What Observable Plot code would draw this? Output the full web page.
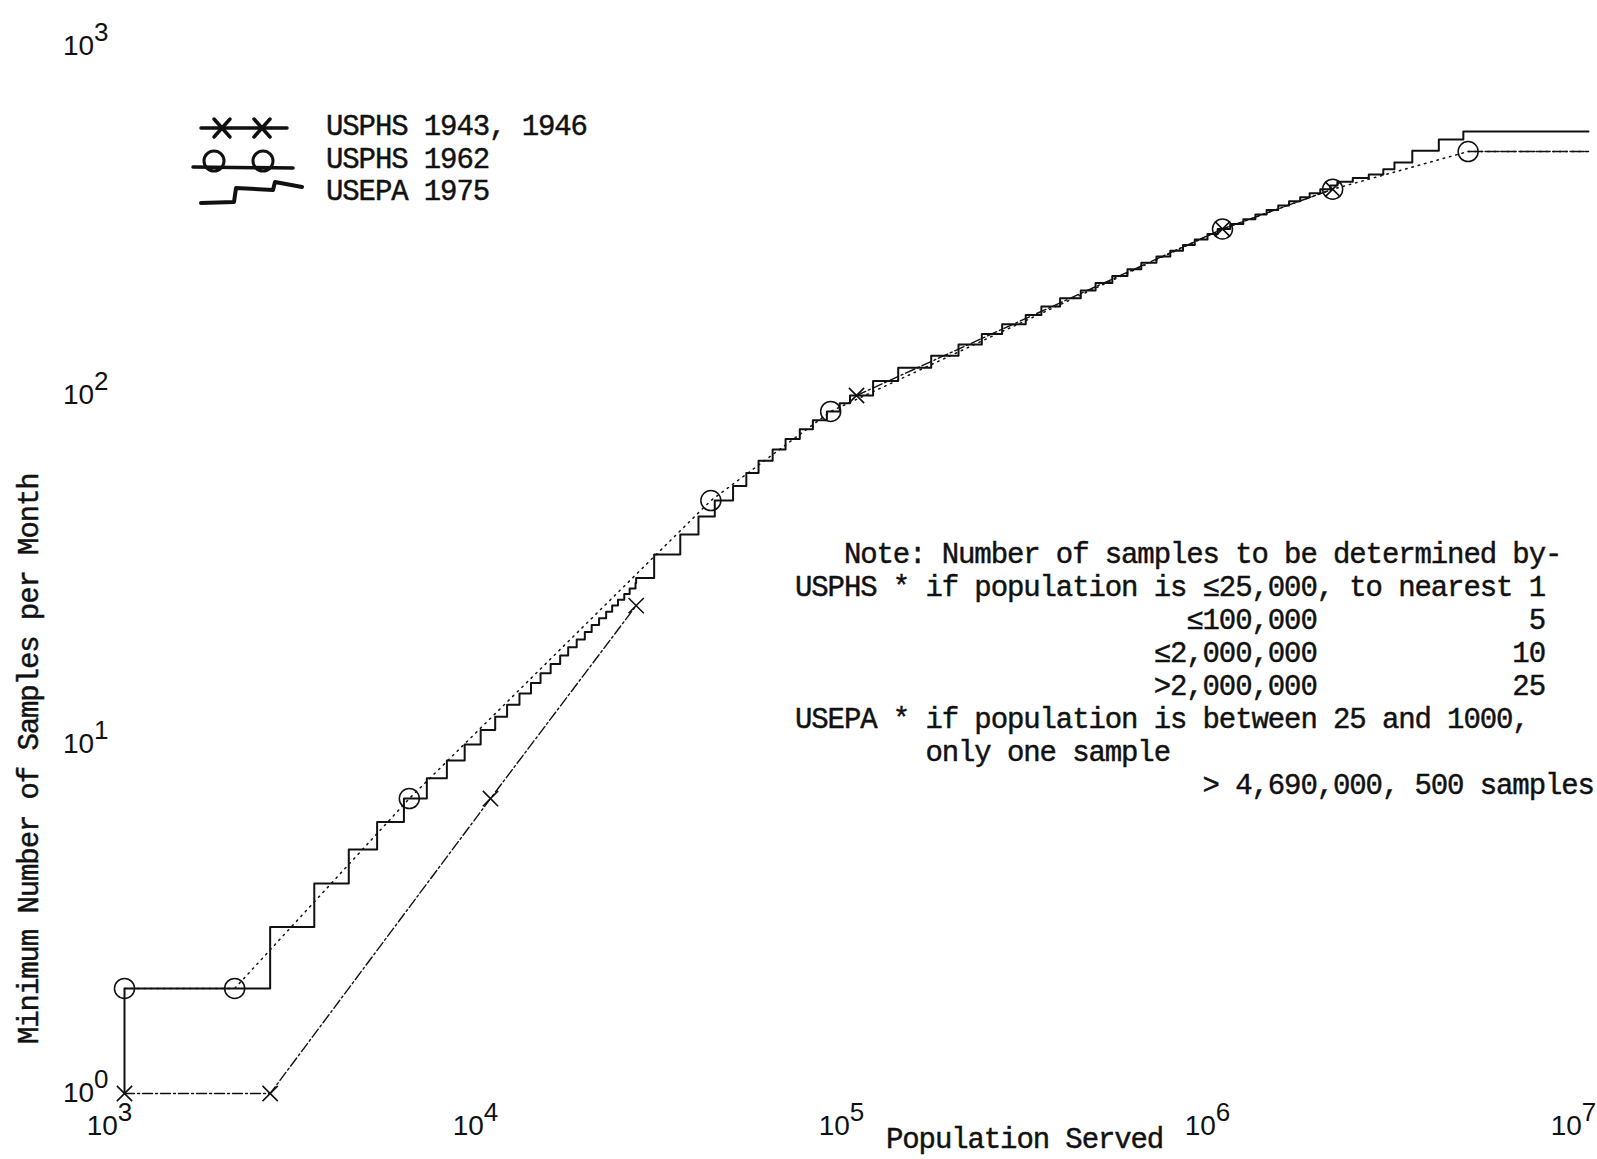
<!DOCTYPE html>
<html><head><meta charset="utf-8">
<script src="https://cdn.jsdelivr.net/npm/d3@7"></script>
<script src="https://cdn.jsdelivr.net/npm/@observablehq/plot@0.6"></script>
<style>
html,body{margin:0;padding:0;background:#fff;}
#wrap{position:relative;width:1597px;height:1159px;overflow:hidden;background:#fff;}
#wrap svg{position:absolute;left:0;top:0;}
.tw{position:absolute;margin:0;font-family:"Liberation Mono","Courier New",monospace;font-size:29px;letter-spacing:-1.1px;line-height:32px;height:32px;color:#111;white-space:pre;pointer-events:none;-webkit-text-stroke:0.45px #111;}
</style></head><body><div id="wrap"></div>
<script>
// ---------- DATA ----------
// USEPA 1975: population at which each step begins, and samples per month from there
const epaPopulation = [1000, 1000, 2500, 3300, 4100, 4900, 5800, 6700, 7600, 8500, 9400, 10300, 11100, 12000, 12900, 13700, 14600, 15500, 16300, 17200, 18100, 18900, 19800, 20700, 21500, 22300, 23200, 24000, 24900, 25000, 28000, 33000, 37000, 41000, 46000, 50000, 54000, 59000, 64000, 70000, 76000, 83000, 90000, 96000, 111000, 130000, 160000, 190000, 220000, 250000, 290000, 320000, 360000, 410000, 450000, 500000, 550000, 600000, 660000, 720000, 780000, 840000, 910000, 970000, 1050000, 1140000, 1230000, 1320000, 1420000, 1520000, 1630000, 1730000, 1850000, 1970000, 2060000, 2270000, 2510000, 2750000, 2950000, 3300000, 3900000, 4550000, 10000000];
const epaSamples = [1, 2, 3, 4, 5, 6, 7, 8, 9, 10, 11, 12, 13, 14, 15, 16, 17, 18, 19, 20, 21, 22, 23, 24, 25, 26, 27, 28, 29, 30, 35, 40, 45, 50, 55, 60, 65, 70, 75, 80, 85, 90, 95, 100, 110, 120, 130, 140, 150, 160, 170, 180, 190, 200, 210, 220, 230, 240, 250, 260, 270, 280, 290, 300, 310, 320, 330, 340, 350, 360, 370, 380, 390, 400, 410, 420, 430, 445, 465, 503, 541, 571, 571];

// USPHS 1943, 1946 (crosses); the drawn line stops at 25,000 and resumes at 100,000
const pop1943 = [1000, 2500, 10000, 25000, 100000, 1000000, 2000000];
const samples1943 = [1, 1, 7, 25, 100, 300, 390];
const break1943 = 25000;

// USPHS 1962 (circles); last point is the end of the line at the right edge
const pop1962 = [1000, 2000, 6000, 40000, 85000, 1000000, 2000000, 4690000, 10000000];
const samples1962 = [2, 2, 7, 50, 90, 300, 390, 500, 500];

const xTicks = [1e3, 1e4, 1e5, 1e6, 1e7];
const yTicks = [1, 10, 100, 1000];

const legendLabels = ["USPHS 1943, 1946", "USPHS 1962", "USEPA 1975"];
const xTitle = "Population Served";
const yTitle = "Minimum Number of Samples per Month";
const noteLines = [
  "   Note: Number of samples to be determined by-",
  "USPHS * if population is ≤25,000, to nearest 1",
  " ".repeat(24) + "≤100,000" + " ".repeat(13) + "5",
  " ".repeat(22) + "≤2,000,000" + " ".repeat(12) + "10",
  " ".repeat(22) + ">2,000,000" + " ".repeat(12) + "25",
  "USEPA * if population is between 25 and 1000,",
  " ".repeat(8) + "only one sample",
  " ".repeat(25) + "> 4,690,000, 500 samples"
];

// ---------- BUILD ----------
const epa = epaPopulation.map((p, i) => ({pop: p, n: epaSamples[i]}));
const s1943 = pop1943.map((p, i) => ({pop: p, n: samples1943[i], part: p <= break1943 ? "a" : "b"}));
const s1962 = pop1962.map((p, i) => ({pop: p, n: samples1962[i]}));
const xMax = 1e7;
const ink = "#111";

const chart = Plot.plot({
  width: 1597,
  height: 1159,
  marginLeft: 124,
  marginRight: 9,
  marginTop: 46,
  marginBottom: 66,
  style: {fontFamily: "'Liberation Sans', Arial, sans-serif", fontSize: "28px", background: "transparent", color: ink},
  x: {type: "log", domain: [1e3, xMax], label: null},
  y: {type: "log", domain: [1, 1e3], label: null},
  marks: [
    Plot.axisX({ticks: xTicks, tickSize: 0, tickPadding: 22, dx: -15, label: null,
      tickFormat: d => "10^" + Math.round(Math.log10(d))}),
    Plot.axisY({ticks: yTicks, tickSize: 0, tickPadding: 16, label: null,
      tickFormat: d => "10^" + Math.round(Math.log10(d))}),
    Plot.line(s1943, {x: "pop", y: "n", z: "part", stroke: ink, strokeWidth: 1.4, strokeDasharray: "10,3,2,3"}),
    Plot.line(s1962, {x: "pop", y: "n", stroke: ink, strokeWidth: 1.5, strokeDasharray: "1.5,5"}),
    Plot.line(s1962.filter(d => d.pop >= 4.69e6), {x: "pop", y: "n", stroke: ink, strokeWidth: 1.6, strokeDasharray: "14,3"}),
    Plot.line(epa, {x: "pop", y: "n", curve: "step-after", stroke: ink, strokeWidth: 2}),
    Plot.dot(s1943, {x: "pop", y: "n", symbol: "times", r: 7, stroke: ink, strokeWidth: 1.6}),
    Plot.dot(s1962.filter(d => d.pop < xMax), {x: "pop", y: "n", r: 10, stroke: ink, strokeWidth: 1.5, fill: "none"})
  ]
});

// superscript tick labels: 10^n -> 10 with raised n
const NS = "http://www.w3.org/2000/svg";
chart.querySelectorAll("text").forEach(t => {
  const m = /^10\^(\d+)$/.exec(t.textContent.trim());
  if (!m) return;
  t.textContent = "";
  const a = document.createElementNS(NS, "tspan");
  a.textContent = "10";
  const b = document.createElementNS(NS, "tspan");
  b.textContent = m[1];
  b.setAttribute("font-size", "26");
  b.setAttribute("dy", "-14");
  t.append(a, b);
});

const wrap = document.getElementById("wrap");
wrap.appendChild(chart);

// ---------- legend (top-left, inside plot area) ----------
const leg = d3.select(wrap).append("svg")
  .attr("width", 320).attr("height", 230)
  .style("position", "absolute").style("left", "0px").style("top", "0px");
const g = leg.append("g").attr("stroke", ink).attr("fill", "none").attr("stroke-linecap", "round");
g.append("line").attr("x1", 201).attr("x2", 287).attr("y1", 128).attr("y2", 128).attr("stroke-width", 3.5);
[222, 262].forEach(cx => {
  g.append("path").attr("d", `M${cx - 8},${128 - 9}L${cx + 8},${128 + 9}M${cx + 8},${128 - 9}L${cx - 8},${128 + 9}`).attr("stroke-width", 3.5);
});
g.append("line").attr("x1", 193).attr("x2", 293).attr("y1", 167).attr("y2", 168).attr("stroke-width", 3.5);
[214, 263].forEach(cx => {
  g.append("circle").attr("cx", cx).attr("cy", 161).attr("r", 10).attr("stroke-width", 3);
});
g.append("path").attr("d", "M201,203L234,202L236,188L273,190L275,182L302,187").attr("stroke-width", 4).attr("stroke-linejoin", "round");

legendLabels.forEach((l, i) => {
  d3.select(wrap).append("div").attr("class", "tw")
    .style("left", "326px").style("top", (112 + i * 32.5) + "px").text(l);
});

// ---------- notes ----------
noteLines.forEach((l, i) => {
  d3.select(wrap).append("div").attr("class", "tw")
    .style("left", "795px").style("top", (540 + i * 33) + "px").text(l);
});

// ---------- axis titles ----------
d3.select(wrap).append("div").attr("class", "tw")
  .style("left", "886px").style("top", "1125px").text(xTitle);
d3.select(wrap).append("div").attr("class", "tw")
  .style("left", (31 - 285) + "px").style("top", (759 - 16) + "px")
  .style("width", "570px").style("text-align", "center")
  .style("transform", "rotate(-90deg)").style("transform-origin", "50% 50%")
  .text(yTitle);
</script></body></html>
